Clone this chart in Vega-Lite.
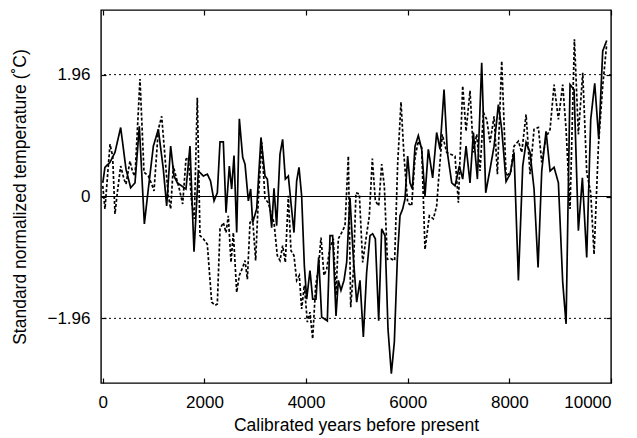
{
  "$schema": "https://vega.github.io/schema/vega-lite/v6.json",
  "width": 510,
  "height": 373,
  "autosize": {"type": "none"},
  "padding": {"left": 101, "top": 10, "right": 26, "bottom": 55},
  "background": "white",
  "config": {
    "view": {"stroke": "#000", "strokeWidth": 1.4},
    "font": "Liberation Sans",
    "axis": {"grid": false, "domain": false, "tickColor": "#000", "tickSize": -5, "tickWidth": 1.2, "labelColor": "#000", "titleColor": "#000", "labelFontSize": 17, "titleFontSize": 17.5, "titleFontWeight": "normal", "labelFont": "Liberation Sans", "titleFont": "Liberation Sans"}
  },
  "datasets": {
    "series": [
      {"s": "a", "yr": 0, "t": 0.22}, {"s": "a", "yr": 43, "t": 0.47}, {"s": "a", "yr": 142, "t": 0.55}, {"s": "a", "yr": 240, "t": 0.71}, {"s": "a", "yr": 352, "t": 1.11}, {"s": "a", "yr": 457, "t": 0.44}, {"s": "a", "yr": 549, "t": 0.14}, {"s": "a", "yr": 634, "t": 0.22}, {"s": "a", "yr": 719, "t": 1.13}, {"s": "a", "yr": 818, "t": -0.44}, {"s": "a", "yr": 896, "t": 0.12}, {"s": "a", "yr": 995, "t": 0.81}, {"s": "a", "yr": 1093, "t": 1.08}, {"s": "a", "yr": 1191, "t": 0.44}, {"s": "a", "yr": 1257, "t": -0.15}, {"s": "a", "yr": 1336, "t": 0.81}, {"s": "a", "yr": 1401, "t": 0.33}, {"s": "a", "yr": 1467, "t": 0.22}, {"s": "a", "yr": 1552, "t": 0.17}, {"s": "a", "yr": 1637, "t": 0.12}, {"s": "a", "yr": 1716, "t": 0.81}, {"s": "a", "yr": 1795, "t": -0.89}, {"s": "a", "yr": 1880, "t": 0.41}, {"s": "a", "yr": 1979, "t": 0.33}, {"s": "a", "yr": 2057, "t": 0.36}, {"s": "a", "yr": 2120, "t": 0.25}, {"s": "a", "yr": 2189, "t": -0.07}, {"s": "a", "yr": 2254, "t": 0.06}, {"s": "a", "yr": 2307, "t": 0.88}, {"s": "a", "yr": 2372, "t": 0.88}, {"s": "a", "yr": 2425, "t": -0.26}, {"s": "a", "yr": 2490, "t": 0.49}, {"s": "a", "yr": 2536, "t": 0.12}, {"s": "a", "yr": 2582, "t": 0.66}, {"s": "a", "yr": 2635, "t": -0.58}, {"s": "a", "yr": 2687, "t": 1.25}, {"s": "a", "yr": 2753, "t": 0.63}, {"s": "a", "yr": 2799, "t": 0.52}, {"s": "a", "yr": 2864, "t": -0.07}, {"s": "a", "yr": 2910, "t": 0.12}, {"s": "a", "yr": 2949, "t": -0.42}, {"s": "a", "yr": 3028, "t": -0.2}, {"s": "a", "yr": 3113, "t": 0.95}, {"s": "a", "yr": 3192, "t": 0.33}, {"s": "a", "yr": 3238, "t": 0.28}, {"s": "a", "yr": 3323, "t": -0.5}, {"s": "a", "yr": 3369, "t": 0.13}, {"s": "a", "yr": 3421, "t": -0.47}, {"s": "a", "yr": 3487, "t": 0.68}, {"s": "a", "yr": 3539, "t": 0.92}, {"s": "a", "yr": 3592, "t": 0.28}, {"s": "a", "yr": 3651, "t": 0.33}, {"s": "a", "yr": 3703, "t": -0.1}, {"s": "a", "yr": 3762, "t": -0.58}, {"s": "a", "yr": 3815, "t": 0.25}, {"s": "a", "yr": 3861, "t": 0.47}, {"s": "a", "yr": 3913, "t": 0.01}, {"s": "a", "yr": 3966, "t": -1.11}, {"s": "a", "yr": 4012, "t": -1.65}, {"s": "a", "yr": 4077, "t": -1.19}, {"s": "a", "yr": 4130, "t": -1.65}, {"s": "a", "yr": 4195, "t": -1.65}, {"s": "a", "yr": 4248, "t": -0.98}, {"s": "a", "yr": 4307, "t": -1.94}, {"s": "a", "yr": 4418, "t": -2.0}, {"s": "a", "yr": 4471, "t": -0.63}, {"s": "a", "yr": 4523, "t": -0.63}, {"s": "a", "yr": 4589, "t": -1.92}, {"s": "a", "yr": 4635, "t": -1.35}, {"s": "a", "yr": 4687, "t": -1.51}, {"s": "a", "yr": 4746, "t": -1.35}, {"s": "a", "yr": 4799, "t": -1.06}, {"s": "a", "yr": 4864, "t": -0.02}, {"s": "a", "yr": 4930, "t": -0.98}, {"s": "a", "yr": 4996, "t": -1.7}, {"s": "a", "yr": 5061, "t": -1.35}, {"s": "a", "yr": 5127, "t": -2.26}, {"s": "a", "yr": 5192, "t": -1.22}, {"s": "a", "yr": 5258, "t": -0.63}, {"s": "a", "yr": 5310, "t": -0.6}, {"s": "a", "yr": 5363, "t": -0.68}, {"s": "a", "yr": 5429, "t": -2.0}, {"s": "a", "yr": 5488, "t": -0.52}, {"s": "a", "yr": 5553, "t": -0.63}, {"s": "a", "yr": 5612, "t": -2.13}, {"s": "a", "yr": 5678, "t": -2.85}, {"s": "a", "yr": 5737, "t": -2.34}, {"s": "a", "yr": 5796, "t": -1.0}, {"s": "a", "yr": 5848, "t": -0.31}, {"s": "a", "yr": 5901, "t": -0.2}, {"s": "a", "yr": 5947, "t": -0.04}, {"s": "a", "yr": 5999, "t": 0.65}, {"s": "a", "yr": 6045, "t": 0.22}, {"s": "a", "yr": 6091, "t": 0.12}, {"s": "a", "yr": 6144, "t": 0.81}, {"s": "a", "yr": 6209, "t": 0.98}, {"s": "a", "yr": 6275, "t": 0.76}, {"s": "a", "yr": 6340, "t": 0.01}, {"s": "a", "yr": 6406, "t": 0.76}, {"s": "a", "yr": 6491, "t": 0.3}, {"s": "a", "yr": 6570, "t": 1.03}, {"s": "a", "yr": 6636, "t": 0.76}, {"s": "a", "yr": 6715, "t": 1.72}, {"s": "a", "yr": 6780, "t": 0.71}, {"s": "a", "yr": 6866, "t": 0.22}, {"s": "a", "yr": 6931, "t": 0.17}, {"s": "a", "yr": 7016, "t": 0.49}, {"s": "a", "yr": 7082, "t": 0.28}, {"s": "a", "yr": 7148, "t": 0.81}, {"s": "a", "yr": 7226, "t": 0.22}, {"s": "a", "yr": 7292, "t": 1.03}, {"s": "a", "yr": 7371, "t": 0.28}, {"s": "a", "yr": 7456, "t": 2.15}, {"s": "a", "yr": 7535, "t": 0.06}, {"s": "a", "yr": 7620, "t": 0.44}, {"s": "a", "yr": 7699, "t": 0.81}, {"s": "a", "yr": 7784, "t": 1.48}, {"s": "a", "yr": 7850, "t": 1.08}, {"s": "a", "yr": 7935, "t": 0.24}, {"s": "a", "yr": 8014, "t": 0.36}, {"s": "a", "yr": 8092, "t": 0.71}, {"s": "a", "yr": 8178, "t": -1.35}, {"s": "a", "yr": 8263, "t": 0.49}, {"s": "a", "yr": 8329, "t": 0.87}, {"s": "a", "yr": 8407, "t": 0.71}, {"s": "a", "yr": 8486, "t": 0.12}, {"s": "a", "yr": 8565, "t": -1.14}, {"s": "a", "yr": 8637, "t": 0.41}, {"s": "a", "yr": 8722, "t": 1.05}, {"s": "a", "yr": 8801, "t": 0.41}, {"s": "a", "yr": 8880, "t": 0.47}, {"s": "a", "yr": 8965, "t": 0.22}, {"s": "a", "yr": 9050, "t": -1.38}, {"s": "a", "yr": 9116, "t": -2.05}, {"s": "a", "yr": 9194, "t": 1.8}, {"s": "a", "yr": 9273, "t": 1.72}, {"s": "a", "yr": 9358, "t": -0.55}, {"s": "a", "yr": 9437, "t": 0.3}, {"s": "a", "yr": 9522, "t": -0.98}, {"s": "a", "yr": 9601, "t": 1.24}, {"s": "a", "yr": 9680, "t": 1.82}, {"s": "a", "yr": 9759, "t": 0.92}, {"s": "a", "yr": 9837, "t": 2.34}, {"s": "a", "yr": 9916, "t": 2.51},
      {"s": "b", "yr": 0, "t": 0.17}, {"s": "b", "yr": 43, "t": -0.2}, {"s": "b", "yr": 89, "t": 0.28}, {"s": "b", "yr": 142, "t": 0.84}, {"s": "b", "yr": 194, "t": 0.65}, {"s": "b", "yr": 240, "t": -0.28}, {"s": "b", "yr": 286, "t": 0.06}, {"s": "b", "yr": 352, "t": 0.49}, {"s": "b", "yr": 417, "t": 0.28}, {"s": "b", "yr": 457, "t": 0.2}, {"s": "b", "yr": 535, "t": 0.57}, {"s": "b", "yr": 588, "t": 0.39}, {"s": "b", "yr": 634, "t": 0.33}, {"s": "b", "yr": 732, "t": 1.89}, {"s": "b", "yr": 811, "t": 0.39}, {"s": "b", "yr": 896, "t": 0.33}, {"s": "b", "yr": 962, "t": 0.2}, {"s": "b", "yr": 1008, "t": 0.09}, {"s": "b", "yr": 1093, "t": 1.08}, {"s": "b", "yr": 1159, "t": 1.29}, {"s": "b", "yr": 1244, "t": 0.44}, {"s": "b", "yr": 1290, "t": 0.01}, {"s": "b", "yr": 1336, "t": -0.2}, {"s": "b", "yr": 1388, "t": 0.49}, {"s": "b", "yr": 1454, "t": 0.28}, {"s": "b", "yr": 1506, "t": 0.12}, {"s": "b", "yr": 1572, "t": -0.12}, {"s": "b", "yr": 1637, "t": 0.6}, {"s": "b", "yr": 1683, "t": 0.63}, {"s": "b", "yr": 1749, "t": -0.1}, {"s": "b", "yr": 1801, "t": -0.36}, {"s": "b", "yr": 1860, "t": 1.59}, {"s": "b", "yr": 1913, "t": -0.63}, {"s": "b", "yr": 1979, "t": -0.68}, {"s": "b", "yr": 2057, "t": -0.77}, {"s": "b", "yr": 2143, "t": -1.7}, {"s": "b", "yr": 2208, "t": -1.75}, {"s": "b", "yr": 2254, "t": -1.73}, {"s": "b", "yr": 2307, "t": -0.52}, {"s": "b", "yr": 2372, "t": -0.42}, {"s": "b", "yr": 2425, "t": -0.58}, {"s": "b", "yr": 2470, "t": -0.31}, {"s": "b", "yr": 2523, "t": -1.06}, {"s": "b", "yr": 2569, "t": -0.58}, {"s": "b", "yr": 2635, "t": -1.54}, {"s": "b", "yr": 2687, "t": -1.27}, {"s": "b", "yr": 2753, "t": -1.14}, {"s": "b", "yr": 2799, "t": -1.03}, {"s": "b", "yr": 2845, "t": -1.33}, {"s": "b", "yr": 2897, "t": -0.42}, {"s": "b", "yr": 2949, "t": -0.36}, {"s": "b", "yr": 3008, "t": -1.03}, {"s": "b", "yr": 3061, "t": -0.04}, {"s": "b", "yr": 3127, "t": 0.87}, {"s": "b", "yr": 3192, "t": -0.04}, {"s": "b", "yr": 3258, "t": -0.1}, {"s": "b", "yr": 3323, "t": -0.31}, {"s": "b", "yr": 3369, "t": -0.42}, {"s": "b", "yr": 3434, "t": -0.95}, {"s": "b", "yr": 3487, "t": -1.03}, {"s": "b", "yr": 3539, "t": -0.79}, {"s": "b", "yr": 3592, "t": -1.06}, {"s": "b", "yr": 3651, "t": 0.01}, {"s": "b", "yr": 3703, "t": -0.87}, {"s": "b", "yr": 3762, "t": -0.95}, {"s": "b", "yr": 3815, "t": -1.35}, {"s": "b", "yr": 3867, "t": -1.27}, {"s": "b", "yr": 3913, "t": -1.81}, {"s": "b", "yr": 3966, "t": -1.43}, {"s": "b", "yr": 4025, "t": -2.02}, {"s": "b", "yr": 4077, "t": -1.86}, {"s": "b", "yr": 4130, "t": -2.29}, {"s": "b", "yr": 4189, "t": -1.43}, {"s": "b", "yr": 4241, "t": -1.17}, {"s": "b", "yr": 4294, "t": -0.66}, {"s": "b", "yr": 4353, "t": -1.27}, {"s": "b", "yr": 4405, "t": -1.17}, {"s": "b", "yr": 4471, "t": -0.82}, {"s": "b", "yr": 4536, "t": -0.68}, {"s": "b", "yr": 4589, "t": -1.59}, {"s": "b", "yr": 4635, "t": -0.68}, {"s": "b", "yr": 4700, "t": -0.58}, {"s": "b", "yr": 4766, "t": -0.47}, {"s": "b", "yr": 4832, "t": 0.65}, {"s": "b", "yr": 4878, "t": -1.78}, {"s": "b", "yr": 4930, "t": -1.22}, {"s": "b", "yr": 4982, "t": 0.06}, {"s": "b", "yr": 5048, "t": 0.04}, {"s": "b", "yr": 5114, "t": -1.06}, {"s": "b", "yr": 5179, "t": -0.68}, {"s": "b", "yr": 5245, "t": -0.31}, {"s": "b", "yr": 5304, "t": 0.61}, {"s": "b", "yr": 5363, "t": -0.07}, {"s": "b", "yr": 5429, "t": -0.15}, {"s": "b", "yr": 5488, "t": 0.52}, {"s": "b", "yr": 5540, "t": 0.17}, {"s": "b", "yr": 5599, "t": -1.01}, {"s": "b", "yr": 5665, "t": -1.0}, {"s": "b", "yr": 5743, "t": -1.03}, {"s": "b", "yr": 5802, "t": 0.52}, {"s": "b", "yr": 5868, "t": 1.52}, {"s": "b", "yr": 5927, "t": 0.65}, {"s": "b", "yr": 5999, "t": -0.1}, {"s": "b", "yr": 6078, "t": -0.15}, {"s": "b", "yr": 6144, "t": 0.63}, {"s": "b", "yr": 6209, "t": 0.89}, {"s": "b", "yr": 6275, "t": 0.79}, {"s": "b", "yr": 6340, "t": -0.85}, {"s": "b", "yr": 6426, "t": -0.31}, {"s": "b", "yr": 6504, "t": -0.36}, {"s": "b", "yr": 6570, "t": -0.15}, {"s": "b", "yr": 6610, "t": 0.3}, {"s": "b", "yr": 6680, "t": 1.0}, {"s": "b", "yr": 6767, "t": 0.71}, {"s": "b", "yr": 6846, "t": 0.68}, {"s": "b", "yr": 6931, "t": 0.65}, {"s": "b", "yr": 6997, "t": -0.1}, {"s": "b", "yr": 7082, "t": 1.78}, {"s": "b", "yr": 7148, "t": 1.05}, {"s": "b", "yr": 7226, "t": 1.7}, {"s": "b", "yr": 7292, "t": 0.71}, {"s": "b", "yr": 7358, "t": 1.0}, {"s": "b", "yr": 7423, "t": 0.41}, {"s": "b", "yr": 7489, "t": 1.35}, {"s": "b", "yr": 7555, "t": 1.24}, {"s": "b", "yr": 7620, "t": 0.87}, {"s": "b", "yr": 7699, "t": 1.29}, {"s": "b", "yr": 7765, "t": 0.36}, {"s": "b", "yr": 7850, "t": 2.18}, {"s": "b", "yr": 7935, "t": 0.33}, {"s": "b", "yr": 8027, "t": 0.39}, {"s": "b", "yr": 8092, "t": 0.81}, {"s": "b", "yr": 8178, "t": 0.89}, {"s": "b", "yr": 8243, "t": 0.71}, {"s": "b", "yr": 8329, "t": 1.32}, {"s": "b", "yr": 8407, "t": 0.36}, {"s": "b", "yr": 8486, "t": 1.08}, {"s": "b", "yr": 8571, "t": 1.11}, {"s": "b", "yr": 8637, "t": 0.55}, {"s": "b", "yr": 8722, "t": 0.95}, {"s": "b", "yr": 8801, "t": 1.08}, {"s": "b", "yr": 8880, "t": 1.8}, {"s": "b", "yr": 8965, "t": 1.24}, {"s": "b", "yr": 9050, "t": 1.8}, {"s": "b", "yr": 9116, "t": 1.08}, {"s": "b", "yr": 9194, "t": -0.2}, {"s": "b", "yr": 9280, "t": 2.53}, {"s": "b", "yr": 9358, "t": 1.0}, {"s": "b", "yr": 9444, "t": 1.99}, {"s": "b", "yr": 9522, "t": 0.39}, {"s": "b", "yr": 9601, "t": 0.06}, {"s": "b", "yr": 9667, "t": -0.93}, {"s": "b", "yr": 9752, "t": 0.81}, {"s": "b", "yr": 9837, "t": 1.78}, {"s": "b", "yr": 9916, "t": 2.45}
    ],
    "dotted": [{"v": 1.96}, {"v": -1.96}],
    "zero": [{"v": 0}]
  },
  "layer": [
    {
      "data": {"name": "dotted"},
      "mark": {"type": "rule", "color": "#000", "strokeWidth": 1, "strokeDash": [2, 3]},
      "encoding": {"y": {"field": "v", "type": "quantitative", "axis": null}}
    },
    {
      "data": {"name": "zero"},
      "mark": {"type": "rule", "color": "#000", "strokeWidth": 1},
      "encoding": {"y": {"field": "v", "type": "quantitative", "axis": null}}
    },
    {
      "data": {"name": "series"},
      "mark": {"type": "line", "color": "#000", "strokeWidth": 1.7, "clip": true},
      "encoding": {
        "x": {"field": "yr", "type": "quantitative", "scale": {"domain": [-35, 10000], "nice": false, "zero": false},
          "axis": {"values": [0, 2000, 4000, 6000, 8000, 10000], "format": "d", "labelPadding": 16.5, "title": "Calibrated years before present", "titlePadding": 6}},
        "y": {"field": "t", "type": "quantitative", "scale": {"domain": [-3, 3], "nice": false, "zero": false},
          "axis": {"values": [-1.96, 0, 1.96], "labelExpr": "datum.value == 0 ? '0' : format(datum.value, '.2f')", "labelPadding": 16, "title": "Standard normalized temperature (˚C)", "titlePadding": 17}},
        "detail": {"field": "s"},
        "strokeDash": {"field": "s", "type": "nominal", "scale": {"domain": ["a", "b"], "range": [[1, 0], [3, 2]]}, "legend": null}
      }
    },
    {
      "data": {"name": "zero"},
      "mark": {"type": "rule", "opacity": 0},
      "encoding": {
        "x": {"datum": 0, "type": "quantitative", "axis": {"orient": "top", "values": [0, 2000, 4000, 6000, 8000, 10000], "labels": false, "title": null, "tickSize": -5}},
        "y": {"datum": 0, "type": "quantitative", "axis": {"orient": "right", "values": [-1.96, 0, 1.96], "labels": false, "title": null, "tickSize": -5}}
      }
    }
  ],
  "resolve": {"axis": {"x": "independent", "y": "independent"}}
}
